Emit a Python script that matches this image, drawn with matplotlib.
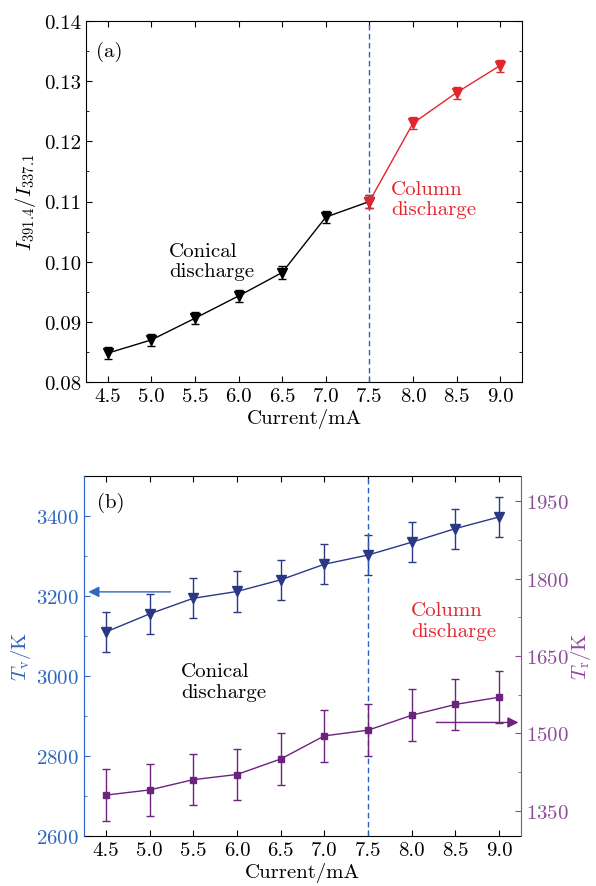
import numpy as np
import matplotlib
matplotlib.use("Agg")
import matplotlib.pyplot as plt
from matplotlib.ticker import MultipleLocator

plt.rcParams["font.family"] = "serif"
plt.rcParams["font.serif"] = ["cmr10"]
plt.rcParams["mathtext.fontset"] = "cm"
plt.rcParams["axes.formatter.use_mathtext"] = True
plt.rcParams["axes.unicode_minus"] = False

# --- data ---
current = [4.5, 5.0, 5.5, 6.0, 6.5, 7.0, 7.5, 8.0, 8.5, 9.0]
ratio = [0.0848, 0.0870, 0.0906, 0.0943, 0.0982, 0.1074, 0.1100, 0.1230, 0.1281, 0.1326]
ratio_err = [0.001] * 10
Tv = [3110, 3155, 3194, 3211, 3240, 3279, 3302, 3334, 3368, 3397]
Tv_err = [50] * 10
Tr = [1380, 1390, 1410, 1420, 1450, 1495, 1506, 1535, 1556, 1570]
Tr_err = [50] * 10
xticks = [4.5, 5.0, 5.5, 6.0, 6.5, 7.0, 7.5, 8.0, 8.5, 9.0]

RED = "#E3262D"
NAVY = "#2B3886"
PURPLE = "#6C237E"
BLUE_AX = "#2F66BF"
PURP_AX = "#8D4D99"
DASH = "#2A62C4"
FS = 15

fig = plt.figure(figsize=(5.96, 8.87), dpi=100)

# --- (a) ratio vs current ---
ax1 = fig.add_axes([0.1443, 0.5682, 0.7315, 0.4070])
split = 6  # index of 7.5 mA
ax1.errorbar(current[:split + 1], ratio[:split + 1], yerr=ratio_err[:split + 1],
             fmt="v-", color="black", ms=7, lw=1, capsize=3, elinewidth=1)
ax1.errorbar(current[split:], ratio[split:], yerr=ratio_err[split:],
             fmt="v-", color=RED, ms=7, lw=1, capsize=3, elinewidth=1)
ax1.axvline(7.5, color=DASH, ls=(0, (4, 2.5)), lw=1)
ax1.set_xlim(4.25, 9.25)
ax1.set_ylim(0.08, 0.14)
ax1.set_xticks(xticks)
ax1.set_xticklabels([f"{v:.1f}" for v in xticks])
ax1.yaxis.set_major_locator(MultipleLocator(0.01))
ax1.yaxis.set_minor_locator(MultipleLocator(0.005))
ax1.yaxis.set_major_formatter(plt.FormatStrFormatter("%.2f"))
ax1.tick_params(direction="in", top=True, right=True, which="both", labelsize=FS)
ax1.tick_params(which="major", length=4)
ax1.tick_params(which="minor", length=2.5)
ax1.set_xlabel("Current/mA", fontsize=FS, labelpad=2)
ax1.set_ylabel(r"$I_{391.4}/I_{337.1}$", fontsize=FS, labelpad=4)
ax1.text(4.37, 0.135, "(a)", fontsize=FS, va="center", ha="left")
ax1.text(5.20, 0.1001, "Conical\ndischarge", fontsize=FS, va="center", ha="left",
         linespacing=1.2)
ax1.text(7.75, 0.1104, "Column\ndischarge", fontsize=FS, va="center", ha="left",
         color=RED, linespacing=1.2)

# --- (b) Tv and Tr vs current ---
ax2 = fig.add_axes([0.1409, 0.0560, 0.7333, 0.4066])
ax2.errorbar(current, Tv, yerr=Tv_err, fmt="v-", color=NAVY, ms=7, lw=1,
             capsize=3, elinewidth=1)
ax2.axvline(7.5, color=DASH, ls=(0, (4, 2.5)), lw=1)
ax2.set_xlim(4.25, 9.25)
ax2.set_ylim(2600, 3500)
ax2.set_xticks(xticks)
ax2.set_xticklabels([f"{v:.1f}" for v in xticks])
ax2.yaxis.set_major_locator(MultipleLocator(200))
ax2.yaxis.set_minor_locator(MultipleLocator(100))
ax2.tick_params(direction="in", top=True, which="both", labelsize=FS)
ax2.tick_params(which="major", length=4)
ax2.tick_params(which="minor", length=2.5)
ax2.tick_params(axis="y", which="both", colors=BLUE_AX)
ax2.spines["left"].set_color(BLUE_AX)
ax2.spines["right"].set_visible(False)
ax2.set_xlabel("Current/mA", fontsize=FS, labelpad=2)
ax2.set_ylabel(r"$T_{\rm v}$/K", fontsize=FS, color=BLUE_AX, labelpad=2)

ax3 = ax2.twinx()
ax3.errorbar(current, Tr, yerr=Tr_err, fmt="s-", color=PURPLE, ms=4.5, lw=1,
             capsize=3, elinewidth=1)
ax3.set_ylim(1300, 2000)
ax3.set_yticks([1350, 1500, 1650, 1800, 1950])
ax3.yaxis.set_minor_locator(plt.FixedLocator([1425, 1575, 1725, 1875]))
ax3.tick_params(direction="in", which="both", labelsize=FS, colors=PURP_AX)
ax3.tick_params(which="major", length=4)
ax3.tick_params(which="minor", length=2.5)
ax3.spines["right"].set_color(PURP_AX)
ax3.spines["left"].set_color(BLUE_AX)
ax3.spines["top"].set_visible(False)
ax3.spines["bottom"].set_visible(False)
ax3.set_ylabel(r"$T_{\rm r}$/K", fontsize=FS, color=PURP_AX, labelpad=0)

ax2.text(4.40, 3435, "(b)", fontsize=FS, va="center", ha="left")
ax2.text(5.36, 2986, "Conical\ndischarge", fontsize=FS, va="center", ha="left",
         linespacing=1.2)
ax2.text(7.99, 3138, "Column\ndischarge", fontsize=FS, va="center", ha="left",
         color=RED, linespacing=1.2)

ax2.annotate("", xy=(4.30, 3210), xytext=(5.24, 3210),
             arrowprops=dict(arrowstyle="-|>", color=BLUE_AX, lw=1,
                             mutation_scale=16, shrinkA=0, shrinkB=0))
ax3.annotate("", xy=(9.22, 1521), xytext=(8.28, 1521),
             arrowprops=dict(arrowstyle="-|>", color=PURPLE, lw=1,
                             mutation_scale=16, shrinkA=0, shrinkB=0))

fig.savefig("out.png", dpi=100)
